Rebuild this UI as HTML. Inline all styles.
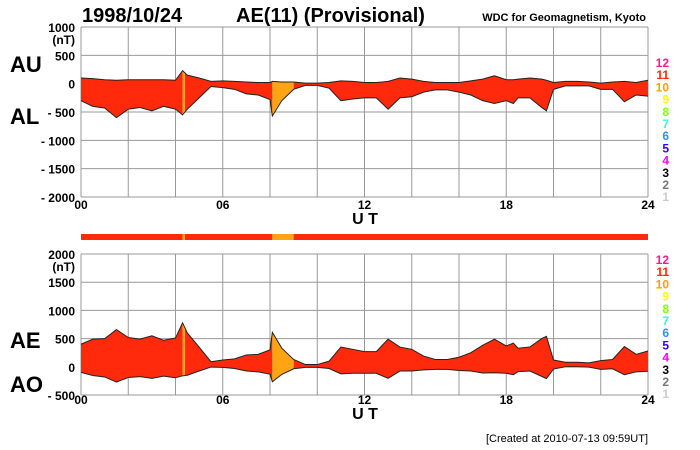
<!DOCTYPE html>
<html><head><meta charset="utf-8"><style>
body{margin:0;background:#fff;}
svg{display:block;font-family:"Liberation Sans",sans-serif;}
</style></head><body>
<svg id="c" width="700" height="450" viewBox="0 0 700 450"></svg>
<script>
const hours=[0,0.5,1,1.5,2,2.5,3,3.5,4,4.3,4.5,5,5.5,6,6.5,7,7.5,8,8.1,8.5,9,9.5,10,10.5,11,11.5,12,12.5,13,13.5,14,14.5,15,15.5,16,16.5,17,17.5,18,18.3,18.5,19,19.5,19.7,20,20.5,21,21.5,22,22.5,23,23.5,24];
const auValues=[100,90,70,60,70,70,70,70,60,230,150,100,40,50,40,30,20,20,40,30,30,10,10,20,50,40,20,20,40,100,80,40,20,20,20,50,80,140,70,70,80,100,80,60,20,40,40,30,10,30,40,20,60];
const alValues=[-300,-400,-430,-600,-450,-420,-480,-400,-450,-550,-450,-250,-50,-70,-100,-180,-200,-280,-570,-300,-100,-30,-30,-80,-300,-270,-250,-250,-450,-250,-230,-150,-110,-110,-150,-200,-300,-350,-300,-350,-250,-250,-420,-480,-100,-40,-40,-40,-100,-100,-320,-200,-220];
const segStart=[0,4.3,4.4,8.1,9.0];
const segEnd=[4.3,4.4,8.1,9.0,24];
const segStations=[11,10,11,10,11];
const topTicks=[1000,500,0,-500,-1000,-1500,-2000];
const topTickLabels=["1000","500","0","- 500","- 1000","- 1500","- 2000"];
const botTicks=[2000,1500,1000,500,0,-500];
const botTickLabels=["2000","1500","1000","500","0","- 500"];
const xTicks=[0,6,12,18,24];
const xTickLabels=["00","06","12","18","24"];
const legendNums=[12,11,10,9,8,7,6,5,4,3,2,1];
const legendColors=["#ff1a8c","#ff2a00","#ffa000","#ffff00","#88ff00","#33ffcc","#2f8fff","#3300ff","#ff00ff","#000","#777","#ccc"];
const stationColor={11:"#ff2a0c",10:"#ffa514"};

const S=document.getElementById('c');const NS="http://www.w3.org/2000/svg";
function mk(t,a,p){const e=document.createElementNS(NS,t);for(const k in a)e.setAttribute(k,a[k]);(p||S).appendChild(e);return e;}
function tx(x,y,s,size,anchor,fill,weight){const e=mk('text',{x:x,y:y,'font-size':size,'text-anchor':anchor||'start',fill:fill||'#000','font-weight':weight||'bold'});e.textContent=s;return e;}
const X0=81,X1=648;
const xs=h=>X0+(X1-X0)*h/24;
function yTop(v){return 27+(1000-v)*(197-27)/3000;}
function yBot(v){return 254+(2000-v)*(395-254)/2500;}
const aeValues=auValues.map((u,i)=>u-alValues[i]);
const aoValues=auValues.map((u,i)=>(u+alValues[i])/2);

function panel(name,ys,vmax,vmin,step,upper,lower,ticks,labels,clipId){
  const g=mk('g',{});
  for(let v=vmin;v<=vmax;v+=step){const l=mk('line',{x1:X0,x2:X1,y1:ys(v),y2:ys(v),stroke:'#999','stroke-width':1},g);}
  for(let h=0;h<=24;h+=2){const l=mk('line',{x1:xs(h),x2:xs(h),y1:ys(vmax),y2:ys(vmin),stroke:'#999','stroke-width':1},g);}
  let d='M'+hours.map((h,i)=>xs(h)+','+ys(upper[i])).join(' L');
  d+=' L'+hours.slice().reverse().map((h,j)=>xs(h)+','+ys(lower[hours.length-1-j])).join(' L')+'Z';
  const cp=mk('clipPath',{id:clipId},g);mk('path',{d:d},cp);
  const fg=mk('g',{'clip-path':'url(#'+clipId+')'},g);
  segStart.forEach((s,i)=>{const r=mk('rect',{x:xs(s),y:ys(vmax),width:xs(segEnd[i])-xs(s),height:ys(vmin)-ys(vmax),fill:stationColor[segStations[i]]},fg);});
  const l1=mk('polyline',{points:hours.map((h,i)=>xs(h)+','+ys(upper[i])).join(' '),fill:'none',stroke:'#222','stroke-width':1},g);
  const l2=mk('polyline',{points:hours.map((h,i)=>xs(h)+','+ys(lower[i])).join(' '),fill:'none',stroke:'#222','stroke-width':1},g);
  ticks.forEach((v,i)=>{const t=tx(75,ys(v)+5,labels[i],12,'end');});
  const nt=tx(75,ys(vmax)+17,'(nT)',12,'end');
}
panel('au-al-panel',yTop,1000,-2000,500,auValues,alValues,topTicks,topTickLabels,'cp1');
panel('ae-ao-panel',yBot,2000,-500,500,aeValues,aoValues,botTicks,botTickLabels,'cp2');

// station bar
segStart.forEach((s,i)=>{const r=mk('rect',{x:xs(s),y:234,width:xs(segEnd[i])-xs(s),height:6,fill:stationColor[segStations[i]]});});

[[209,'top'],[404,'bottom']].forEach(([y,p])=>{
  xTicks.forEach((h,i)=>{const t=tx(xs(h),y,xTickLabels[i],12,'middle');});
  const u=tx(365,y+15,'U T',16,'middle');
});
[[62,'top'],[259,'bottom']].forEach(([y0])=>{
  legendNums.forEach((n,i)=>{const t=tx(669,y0+5+i*12.2,String(n),12,'end',legendColors[i]);});
});
let t;
t=tx(82,22,'1998/10/24',20,'start');
t=tx(236,22,'AE(11) (Provisional)',20,'start');
t=tx(646,21,'WDC for Geomagnetism, Kyoto',11,'end');
t=tx(10,72,'AU',22,'start');
t=tx(10,124,'AL',22,'start');
t=tx(10,348,'AE',22,'start');
t=tx(10,392,'AO',22,'start');
t=tx(648,442,'[Created at 2010-07-13 09:59UT]',11,'end','#000','normal');
</script>
</body></html>
